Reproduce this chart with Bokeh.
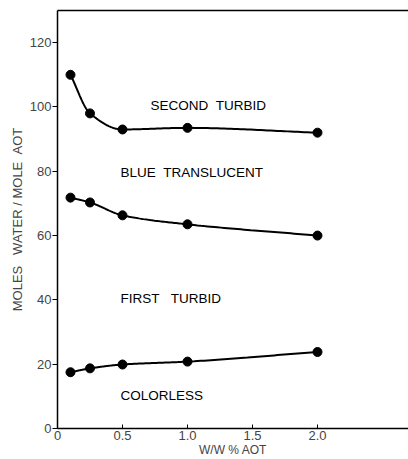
import numpy as np
from bokeh.plotting import figure
from bokeh.models import FixedTicker, LinearAxis, Title, Range1d
from bokeh.core.properties import value
from bokeh.embed import file_html
from bokeh.resources import INLINE

# Phase boundaries: moles water per mole AOT vs. w/w % AOT
aot_pct = [0.1, 0.25, 0.5, 1.0, 2.0]
second_turbid = [110.0, 98.0, 93.0, 93.5, 92.0]
blue_translucent = [71.8, 70.3, 66.3, 63.5, 60.0]
colorless = [17.5, 18.7, 19.9, 20.8, 23.8]

NB = "\u00a0"
region_names = ["SECOND" + NB * 2 + "TURBID", "BLUE" + NB * 2 + "TRANSLUCENT",
                "FIRST" + NB * 3 + "TURBID", "COLORLESS"]
y_ticks = [0, 20, 40, 60, 80, 100, 120]
x_ticks = [0, 0.5, 1.0, 1.5, 2.0]
x_tick_labels = ["0", "0.5", "1.0", "1.5", "2.0"]
y_title = "MOLES" + NB * 3 + "WATER" + NB + "/" + NB + "MOLE" + NB * 2 + "AOT"

FONT = "Liberation Sans"


def smooth(xs, ys, n=40):
    """Monotone cubic Hermite path through the points (Fritsch-Carlson)."""
    x = np.asarray(xs, float)
    y = np.asarray(ys, float)
    h = np.diff(x)
    d = np.diff(y) / h
    m = np.zeros_like(y)
    m[0], m[-1] = d[0], d[-1]
    for i in range(1, len(x) - 1):
        if d[i - 1] * d[i] <= 0:
            m[i] = 0.0
        else:
            w1 = 2 * h[i] + h[i - 1]
            w2 = h[i] + 2 * h[i - 1]
            m[i] = (w1 + w2) / (w1 / d[i - 1] + w2 / d[i])
    px, py = [], []
    for i in range(len(x) - 1):
        t = np.linspace(0, 1, n, endpoint=(i == len(x) - 2))
        h00 = 2 * t**3 - 3 * t**2 + 1
        h10 = t**3 - 2 * t**2 + t
        h01 = -2 * t**3 + 3 * t**2
        h11 = t**3 - t**2
        px.extend(x[i] + t * h[i])
        py.extend(h00 * y[i] + h10 * h[i] * m[i] + h01 * y[i + 1] + h11 * h[i] * m[i + 1])
    return px, py


p = figure(width=408, height=459, output_backend="svg", toolbar_location=None,
           x_range=Range1d(0, 2.7), y_range=Range1d(0, 130),
           min_border_left=57, min_border_right=0, min_border_top=10, min_border_bottom=10)

p.outline_line_color = None
p.grid.visible = False
p.background_fill_color = "white"
p.border_fill_color = "white"

for ys in (second_turbid, blue_translucent, colorless):
    cx, cy = smooth(aot_pct, ys)
    p.line(cx, cy, line_color="black", line_width=2)
    p.scatter(aot_pct, ys, size=9, fill_color="black", line_color="black")

# region names
p.text(x=[0.715, 0.485, 0.485, 0.485], y=[100.6, 79.5, 40.3, 10.3], text=region_names,
       text_font=value(FONT), text_font_size="13.5px", text_color="black",
       text_align="left", text_baseline="middle")

# axes
xa = p.xaxis[0]
xa.ticker = FixedTicker(ticks=x_ticks)
xa.major_label_overrides = {t: s for t, s in zip(x_ticks, x_tick_labels)}
xa.major_tick_in = 4
xa.major_tick_out = 0
xa.minor_tick_line_color = None
xa.axis_line_width = 1.5
xa.major_label_standoff = 2
xa.major_label_text_font = FONT
xa.major_label_text_font_size = "13px"
xa.axis_label = "W/W % AOT"
xa.axis_label_text_font = FONT
xa.axis_label_text_font_style = "normal"
xa.axis_label_text_font_size = "12px"
xa.axis_label_standoff = 0

ya = p.yaxis[0]
ya.ticker = FixedTicker(ticks=y_ticks)
ya.major_tick_in = 0
ya.major_tick_out = 5
ya.minor_tick_line_color = None
ya.axis_line_width = 1.5
ya.major_label_standoff = 1
ya.major_label_text_font = FONT
ya.major_label_text_font_size = "13px"

top = LinearAxis(ticker=FixedTicker(ticks=[]), major_tick_in=0, major_tick_out=0,
                 minor_tick_line_color=None, major_label_text_font_size="0px",
                 axis_line_width=1.5)
p.add_layout(top, "above")

p.add_layout(Title(text=y_title, align="center", offset=58,
                   text_font=FONT, text_font_style="normal", text_font_size="13px",
                   standoff=4), "left")

open("out.html", "w").write(file_html(p, INLINE))
